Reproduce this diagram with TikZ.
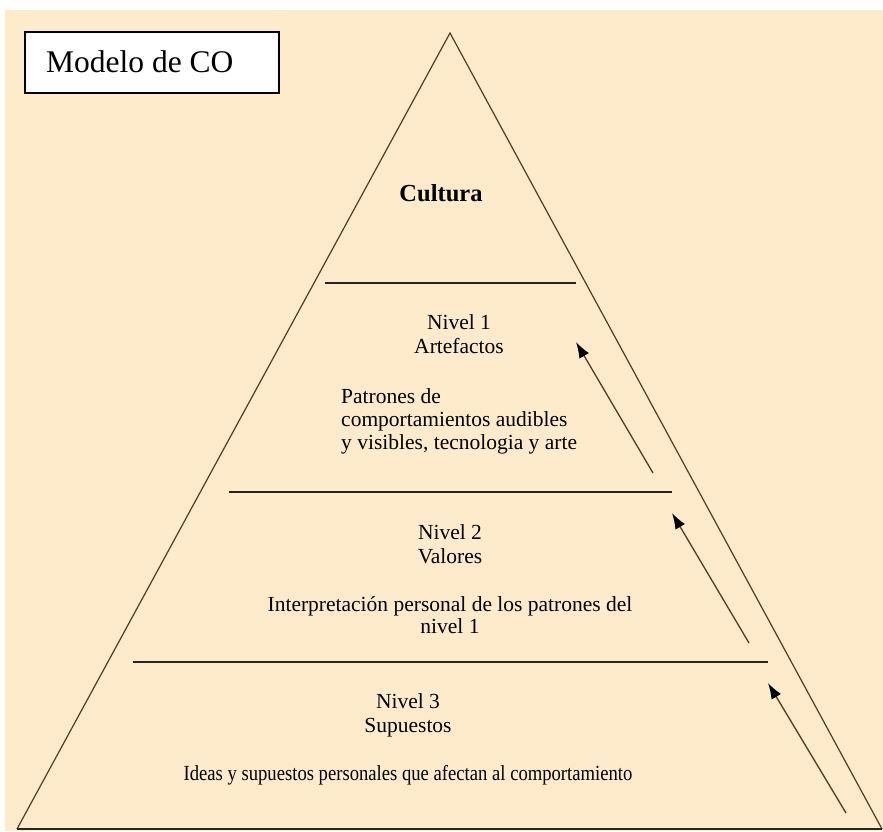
\documentclass[tikz,border=0pt]{standalone}
\usepackage{fontspec}
\setmainfont{Liberation Serif}
\usetikzlibrary{arrows.meta}
\definecolor{fondo}{RGB}{254,235,203}
\definecolor{lado}{RGB}{88,56,38}
\definecolor{raya}{RGB}{40,36,32}
\tikzset{
  nivel/.style={align=center, inner sep=0pt, anchor=base, font=\fontsize{21.5}{23.5}\selectfont},
  texto/.style={inner sep=0pt, anchor=base, font=\fontsize{21.5}{23}\selectfont},
  corte/.style={raya, line width=1.3pt},
  flecha/.style={lado, line width=1.3pt, -{Latex[length=16pt,width=11pt,black]}}
}
\begin{document}
\begin{tikzpicture}[x=1pt, y=-1pt]
\useasboundingbox (0,0) rectangle (883,831);
\fill[white] (0,0) rectangle (883,831);
\fill[fondo] (5,10) rectangle (883,831);
% piramide
\coordinate (cima) at (450,33);
\coordinate (izq) at (17,829);
\coordinate (der) at (882,829);
\draw[lado, line width=1.2pt] (izq)--(cima)--(der);
\draw[raya, line width=2pt] (izq)--(der);
\draw[corte] (325,283)--(576,283);
\draw[corte] (229,492)--(672,492);
\draw[corte] (133,662)--(768,662);
% textos (base = ultima linea)
\node[texto, font=\fontsize{24.5}{26}\selectfont\bfseries] (cultura) at (441,201) {Cultura};
\node[nivel] (n1) at (459,353) {Nivel 1\\Artefactos};
\node[texto, align=left, anchor=base west] (p1) at (341,449) {Patrones de\\comportamientos audibles\\y visibles, tecnologia y arte};
\node[nivel] (n2) at (450,563) {Nivel 2\\Valores};
\node[nivel, font=\fontsize{21.5}{21.5}\selectfont] (p2) at (450,633) {Interpretación personal de los patrones del\\nivel 1};
\node[nivel] (n3) at (408,732) {Nivel 3\\Supuestos};
\node[texto] (p3) at (408,780) {\scalebox{0.867}[1]{Ideas y supuestos personales que afectan al comportamiento}};
% flechas
\coordinate (a1) at (653,473); \coordinate (b1) at (576,342);
\coordinate (a2) at (749,643); \coordinate (b2) at (672,513);
\coordinate (a3) at (846,813); \coordinate (b3) at (768,683);
\draw[flecha] (a1)--(b1);
\draw[flecha] (a2)--(b2);
\draw[flecha] (a3)--(b3);
% titulo
\draw[line width=1.6pt, fill=white] (25,32) rectangle (279,93);
\node[texto, anchor=base west, font=\fontsize{31.5}{33}\selectfont] (titulo) at (46,72) {Modelo de CO};
\end{tikzpicture}
\end{document}
